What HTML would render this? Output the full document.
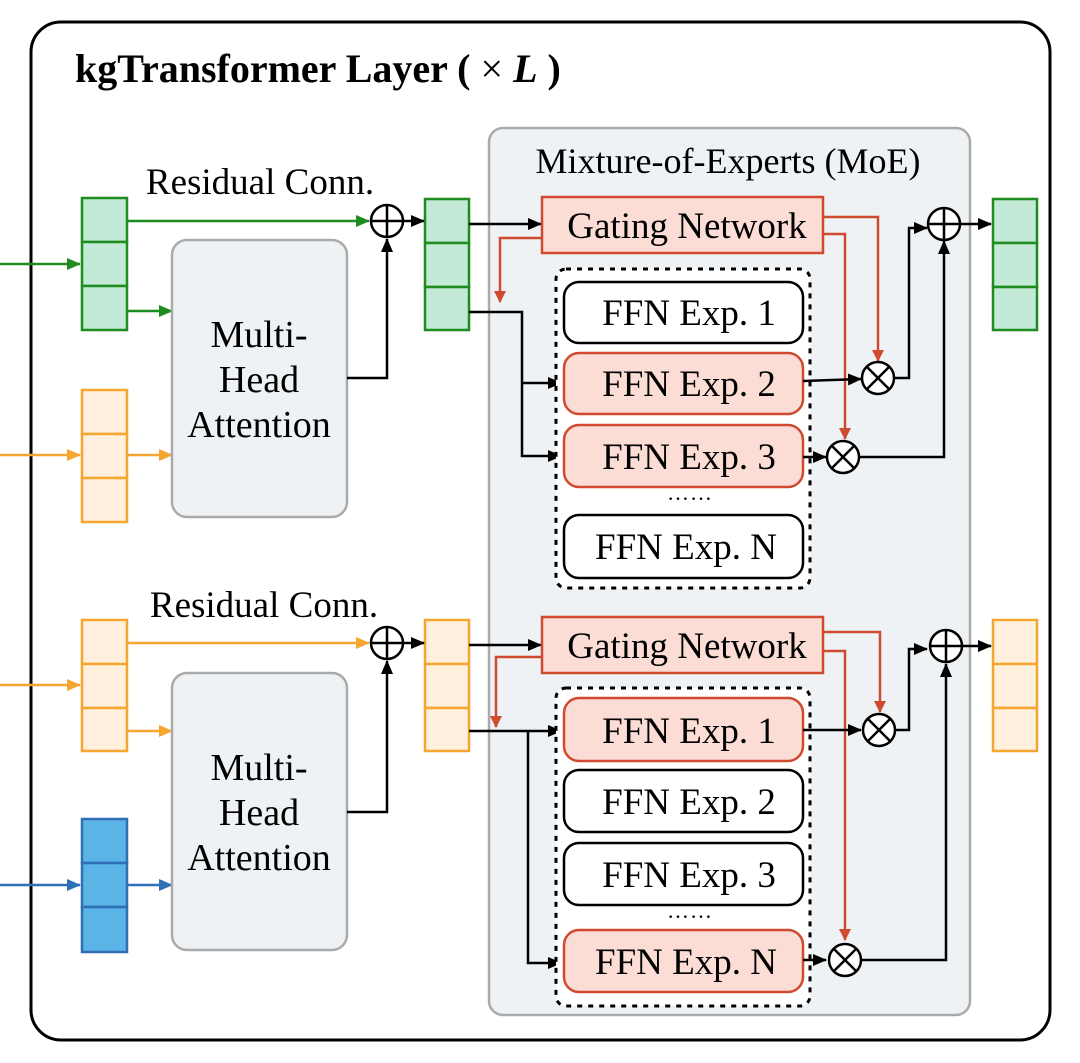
<!DOCTYPE html>
<html><head><meta charset="utf-8"><style>
html,body{margin:0;padding:0;background:#fff;width:1080px;height:1063px;overflow:hidden}
svg text{font-family:"Liberation Serif",serif;fill:#000}
</style></head><body>
<svg width="1080" height="1063" viewBox="0 0 1080 1063" xmlns="http://www.w3.org/2000/svg">
<defs>
<marker id="ag" markerWidth="14" markerHeight="12" refX="13" refY="6" orient="auto" markerUnits="userSpaceOnUse"><path d="M0,0 L14,6 L0,12 z" fill="#1e8c1e"/></marker>
<marker id="ao" markerWidth="14" markerHeight="12" refX="13" refY="6" orient="auto" markerUnits="userSpaceOnUse"><path d="M0,0 L14,6 L0,12 z" fill="#f5a631"/></marker>
<marker id="ab" markerWidth="14" markerHeight="12" refX="13" refY="6" orient="auto" markerUnits="userSpaceOnUse"><path d="M0,0 L14,6 L0,12 z" fill="#2e6fb5"/></marker>
<marker id="ar" markerWidth="12" markerHeight="12" refX="11" refY="6" orient="auto" markerUnits="userSpaceOnUse"><path d="M0,0 L12,6 L0,12 z" fill="#d04a30"/></marker>
<marker id="ak2" markerWidth="14" markerHeight="12" refX="13" refY="6" orient="auto" markerUnits="userSpaceOnUse"><path d="M0,0 L14,6 L0,12 z" fill="#000"/></marker>
</defs>

<rect x="31" y="22" width="1019" height="1018" rx="30" fill="#fff" stroke="#000" stroke-width="3"/>
<text x="75" y="82" font-size="40" font-weight="bold">kgTransformer Layer ( <tspan font-weight="normal">×</tspan> <tspan font-style="italic">L</tspan> )</text>

<rect x="489" y="128" width="481" height="887" rx="14" fill="#eff2f4" stroke="#aaa" stroke-width="2.5"/>
<text x="728" y="173" font-size="36" text-anchor="middle">Mixture-of-Experts (MoE)</text>

<!-- TOP -->
<text x="260" y="194" font-size="37" text-anchor="middle">Residual Conn.</text>
<g stroke="#1e8c1e" stroke-width="2.5" fill="#c2ead6">
<rect x="82" y="198" width="45" height="44"/><rect x="82" y="242" width="45" height="44"/><rect x="82" y="286" width="45" height="44"/>
<rect x="425" y="199" width="44" height="44"/><rect x="425" y="243" width="44" height="44"/><rect x="425" y="287" width="44" height="43"/>
<rect x="993" y="199" width="44" height="44"/><rect x="993" y="243" width="44" height="44"/><rect x="993" y="287" width="44" height="43"/>
</g>
<g stroke="#1e8c1e" stroke-width="2.5" fill="none">
<line x1="0" y1="264" x2="80" y2="264" marker-end="url(#ag)"/>
<line x1="127" y1="221" x2="369" y2="221" marker-end="url(#ag)"/>
<line x1="127" y1="311" x2="172" y2="311" marker-end="url(#ag)"/>
</g>
<g stroke="#f5a631" stroke-width="2.5" fill="#fff0de">
<rect x="82" y="390" width="45" height="44"/><rect x="82" y="434" width="45" height="44"/><rect x="82" y="478" width="45" height="44"/>
</g>
<g stroke="#f5a631" stroke-width="2.5" fill="none">
<line x1="0" y1="455" x2="80" y2="455" marker-end="url(#ao)"/>
<line x1="127" y1="455" x2="172" y2="455" marker-end="url(#ao)"/>
</g>
<rect x="172" y="240" width="175" height="277" rx="15" fill="#eff2f4" stroke="#aaa" stroke-width="2.5"/>
<text font-size="38" text-anchor="middle"><tspan x="259" y="347">Multi-</tspan><tspan x="259" y="392">Head</tspan><tspan x="259" y="437">Attention</tspan></text>

<g stroke="#000" stroke-width="2.5" fill="none">
<polyline points="347,378 387,378 387,239" marker-end="url(#ak2)"/>
<line x1="403" y1="221" x2="424" y2="221" marker-end="url(#ak2)"/>
<circle cx="387" cy="221" r="16" fill="#fff"/><line x1="371" y1="221" x2="403" y2="221"/><line x1="387" y1="205" x2="387" y2="237"/>
<line x1="469" y1="224" x2="541" y2="224" marker-end="url(#ak2)"/>
<polyline points="469,312 522,312 522,456 561,456" marker-end="url(#ak2)"/>
<polyline points="522,383 561,383" marker-end="url(#ak2)"/>
</g>

<rect x="542" y="197" width="281" height="56" fill="#fbddd6" stroke="#d04a30" stroke-width="2.5"/>
<text x="687" y="238" font-size="37" text-anchor="middle">Gating Network</text>

<rect x="556" y="269" width="254" height="319" rx="10" fill="#fff" stroke="#000" stroke-width="3" stroke-dasharray="5,6"/>
<rect x="564" y="282" width="239" height="61" rx="15" fill="#fff" stroke="#000" stroke-width="2.5"/>
<rect x="564" y="353" width="239" height="61" rx="15" fill="#fbddd6" stroke="#d04a30" stroke-width="2.5"/>
<rect x="564" y="425" width="239" height="62" rx="15" fill="#fbddd6" stroke="#d04a30" stroke-width="2.5"/>
<rect x="564" y="515" width="239" height="63" rx="15" fill="#fff" stroke="#000" stroke-width="2.5"/>
<g font-size="37" text-anchor="middle">
<text x="689" y="325">FFN Exp. 1</text><text x="689" y="396">FFN Exp. 2</text><text x="689" y="469">FFN Exp. 3</text><text x="686" y="559">FFN Exp. N</text>
<text x="690" y="500" font-size="22" letter-spacing="1">……</text>
</g>

<g stroke="#d04a30" stroke-width="2.5" fill="none">
<polyline points="542,238 500,238 500,302" marker-end="url(#ar)"/>
<polyline points="823,217 878,217 878,361" marker-end="url(#ar)"/>
<polyline points="823,234 845,234 845,439" marker-end="url(#ar)"/>
</g>
<g stroke="#000" stroke-width="2.5" fill="none">
<line x1="803" y1="381" x2="861" y2="379" marker-end="url(#ak2)"/>
<line x1="803" y1="457" x2="826" y2="457" marker-end="url(#ak2)"/>
<polyline points="894,378 909,378 909,228 927,228" marker-end="url(#ak2)"/>
<polyline points="859,457 944,457 944,241" marker-end="url(#ak2)"/>
<line x1="960" y1="224" x2="991" y2="224" marker-end="url(#ak2)"/>
<circle cx="878" cy="378" r="16" fill="#fff"/><line x1="867" y1="367" x2="889" y2="389"/><line x1="889" y1="367" x2="867" y2="389"/>
<circle cx="843" cy="457" r="16" fill="#fff"/><line x1="832" y1="446" x2="854" y2="468"/><line x1="854" y1="446" x2="832" y2="468"/>
<circle cx="944" cy="224" r="16" fill="#fff"/><line x1="928" y1="224" x2="960" y2="224"/><line x1="944" y1="208" x2="944" y2="240"/>
</g>

<!-- BOTTOM -->
<text x="264" y="617" font-size="37" text-anchor="middle">Residual Conn.</text>
<g stroke="#f5a631" stroke-width="2.5" fill="#fff0de">
<rect x="82" y="620" width="45" height="44"/><rect x="82" y="664" width="45" height="44"/><rect x="82" y="708" width="45" height="43"/>
<rect x="425" y="620" width="44" height="44"/><rect x="425" y="664" width="44" height="44"/><rect x="425" y="708" width="44" height="43"/>
<rect x="993" y="620" width="44" height="44"/><rect x="993" y="664" width="44" height="44"/><rect x="993" y="708" width="44" height="43"/>
</g>
<g stroke="#f5a631" stroke-width="2.5" fill="none">
<line x1="0" y1="685" x2="80" y2="685" marker-end="url(#ao)"/>
<line x1="127" y1="643" x2="369" y2="643" marker-end="url(#ao)"/>
<line x1="127" y1="731" x2="172" y2="731" marker-end="url(#ao)"/>
</g>
<g stroke="#2e6fb5" stroke-width="2.5" fill="#5ab4e5">
<rect x="82" y="819" width="45" height="44"/><rect x="82" y="863" width="45" height="44"/><rect x="82" y="907" width="45" height="45"/>
</g>
<g stroke="#2e6fb5" stroke-width="2.5" fill="none">
<line x1="0" y1="885" x2="80" y2="885" marker-end="url(#ab)"/>
<line x1="127" y1="885" x2="172" y2="885" marker-end="url(#ab)"/>
</g>
<rect x="172" y="673" width="175" height="277" rx="15" fill="#eff2f4" stroke="#aaa" stroke-width="2.5"/>
<text font-size="38" text-anchor="middle"><tspan x="259" y="780">Multi-</tspan><tspan x="259" y="825">Head</tspan><tspan x="259" y="870">Attention</tspan></text>

<g stroke="#000" stroke-width="2.5" fill="none">
<polyline points="347,812 387,812 387,661" marker-end="url(#ak2)"/>
<line x1="403" y1="643" x2="424" y2="643" marker-end="url(#ak2)"/>
<circle cx="387" cy="643" r="16" fill="#fff"/><line x1="371" y1="643" x2="403" y2="643"/><line x1="387" y1="627" x2="387" y2="659"/>
<line x1="469" y1="645" x2="541" y2="645" marker-end="url(#ak2)"/>
<polyline points="469,731 561,731" marker-end="url(#ak2)"/>
<polyline points="528,731 528,963 561,963" marker-end="url(#ak2)"/>
</g>

<rect x="542" y="617" width="281" height="56" fill="#fbddd6" stroke="#d04a30" stroke-width="2.5"/>
<text x="687" y="658" font-size="37" text-anchor="middle">Gating Network</text>

<rect x="556" y="688" width="254" height="318" rx="10" fill="#fff" stroke="#000" stroke-width="3" stroke-dasharray="5,6"/>
<rect x="564" y="698" width="239" height="63" rx="15" fill="#fbddd6" stroke="#d04a30" stroke-width="2.5"/>
<rect x="564" y="770" width="239" height="62" rx="15" fill="#fff" stroke="#000" stroke-width="2.5"/>
<rect x="564" y="843" width="239" height="62" rx="15" fill="#fff" stroke="#000" stroke-width="2.5"/>
<rect x="564" y="930" width="239" height="62" rx="15" fill="#fbddd6" stroke="#d04a30" stroke-width="2.5"/>
<g font-size="37" text-anchor="middle">
<text x="689" y="743">FFN Exp. 1</text><text x="689" y="814">FFN Exp. 2</text><text x="689" y="887">FFN Exp. 3</text><text x="686" y="974">FFN Exp. N</text>
<text x="690" y="918" font-size="22" letter-spacing="1">……</text>
</g>

<g stroke="#d04a30" stroke-width="2.5" fill="none">
<polyline points="542,657 496,657 496,727" marker-end="url(#ar)"/>
<polyline points="823,632 880,632 880,712" marker-end="url(#ar)"/>
<polyline points="823,651 845,651 845,940" marker-end="url(#ar)"/>
</g>
<g stroke="#000" stroke-width="2.5" fill="none">
<line x1="803" y1="730" x2="861" y2="730" marker-end="url(#ak2)"/>
<line x1="803" y1="960" x2="826" y2="960" marker-end="url(#ak2)"/>
<polyline points="896,730 909,730 909,649 927,649" marker-end="url(#ak2)"/>
<polyline points="861,960 946,960 946,664" marker-end="url(#ak2)"/>
<line x1="962" y1="646" x2="991" y2="646" marker-end="url(#ak2)"/>
<circle cx="879" cy="730" r="16" fill="#fff"/><line x1="868" y1="719" x2="890" y2="741"/><line x1="890" y1="719" x2="868" y2="741"/>
<circle cx="845" cy="960" r="16" fill="#fff"/><line x1="834" y1="949" x2="856" y2="971"/><line x1="856" y1="949" x2="834" y2="971"/>
<circle cx="946" cy="646" r="16" fill="#fff"/><line x1="930" y1="646" x2="962" y2="646"/><line x1="946" y1="630" x2="946" y2="662"/>
</g>
</svg>
</body></html>
